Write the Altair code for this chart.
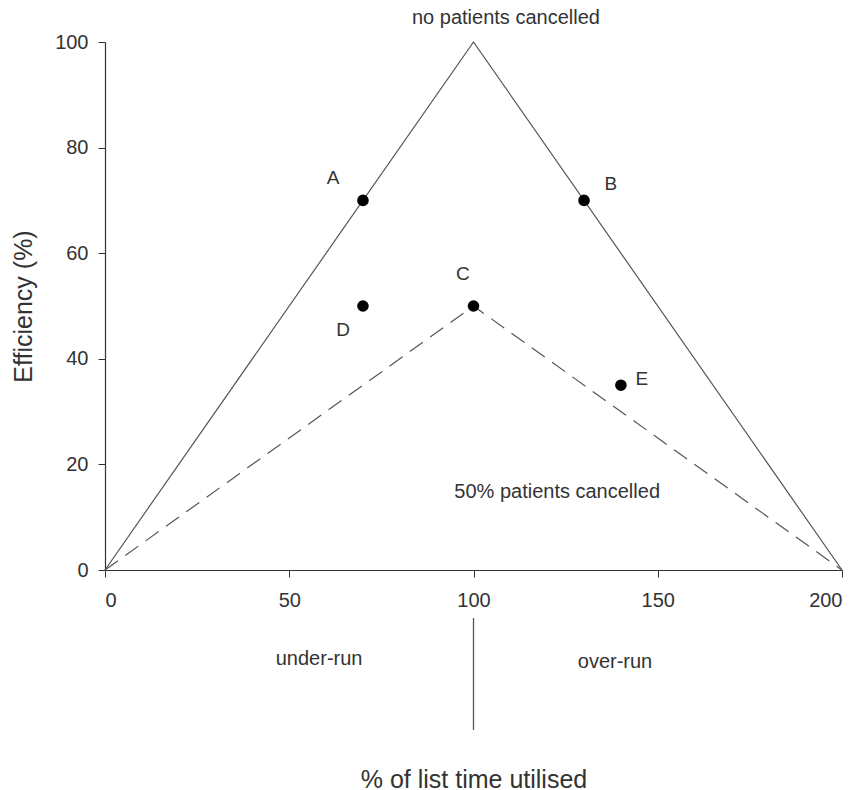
import altair as alt
import pandas as pd

# triangle boundaries
outer_x = [0, 100, 200]
outer_y = [0, 100, 0]
inner_x = [0, 100, 200]
inner_y = [0, 50, 0]

# scenario points
pt_x = [70, 130, 100, 70, 140]
pt_y = [70, 70, 50, 50, 35]
pt_name = ["A", "B", "C", "D", "E"]
lab_x = [61.9, 137.3, 97.1, 64.6, 145.7]
lab_y = [74.2, 73.1, 56.1, 45.5, 36.2]

# annotations (text baselines)
ann_text = ["no patients cancelled", "50% patients cancelled", "under-run", "over-run"]
ann_x = [108.8, 122.7, 58.1, 138.4]
ann_y = [103.4, 13.6, -18.0, -18.6]

# divider below axis
div_x = [100]
div_y1 = [-9.1]
div_y2 = [-30.3]

FONT = "Liberation Sans"
GREY = "#555555"
TXT = "#333333"

xs = alt.Scale(domain=[0, 200], nice=False)
ys = alt.Scale(domain=[0, 100], nice=False)

outer = pd.DataFrame({"x": outer_x, "y": outer_y, "o": range(3)})
inner = pd.DataFrame({"x": inner_x, "y": inner_y, "o": range(3)})
pts = pd.DataFrame({"x": pt_x, "y": pt_y, "n": pt_name})
labs = pd.DataFrame({"x": lab_x, "y": lab_y, "n": pt_name})
ann = pd.DataFrame({"x": ann_x, "y": ann_y, "t": ann_text})
div = pd.DataFrame({"x": div_x, "y": div_y1, "y2": div_y2})

x_enc = alt.X("x:Q", scale=xs, title="% of list time utilised",
              axis=alt.Axis(values=[0, 50, 100, 150, 200], grid=False,
                            tickSize=7, labelPadding=13, titlePadding=157,
                            labelFontSize=20, titleFontSize=25))
y_enc = alt.Y("y:Q", scale=ys, title="Efficiency (%)",
              axis=alt.Axis(values=[0, 20, 40, 60, 80, 100], grid=False,
                            tickSize=7, labelPadding=10, titlePadding=18,
                            labelFontSize=20, titleFontSize=25))

l_outer = alt.Chart(outer).mark_line(color=GREY, strokeWidth=1.2).encode(
    x=x_enc, y=y_enc, order="o:Q")
l_inner = alt.Chart(inner).mark_line(color=GREY, strokeWidth=1.2, strokeDash=[16, 9]).encode(
    x="x:Q", y="y:Q", order="o:Q")
p = alt.Chart(pts).mark_circle(color="black", size=135, opacity=1).encode(x="x:Q", y="y:Q")
t = alt.Chart(labs).mark_text(font=FONT, fontSize=19, color=TXT).encode(
    x="x:Q", y="y:Q", text="n:N")
a = alt.Chart(ann).mark_text(font=FONT, fontSize=20, color=TXT, baseline="alphabetic").encode(
    x="x:Q", y="y:Q", text="t:N")
d = alt.Chart(div).mark_rule(color=GREY, strokeWidth=1.3).encode(
    x="x:Q", y="y:Q", y2="y2:Q")

chart = alt.layer(l_outer, l_inner, d, p, t, a).properties(
    width=737, height=528,
    autosize=alt.AutoSizeParams(type="none"),
    padding={"left": 97, "top": 34, "right": 11, "bottom": 220},
).configure_view(stroke=None).configure_axis(
    domainColor=TXT, tickColor=TXT, labelColor=TXT, titleColor=TXT,
    labelFont=FONT, titleFont=FONT, titleFontWeight="normal", domainWidth=1.2
)

chart.save("out.html", embed_options={"renderer": "svg", "actions": False})
